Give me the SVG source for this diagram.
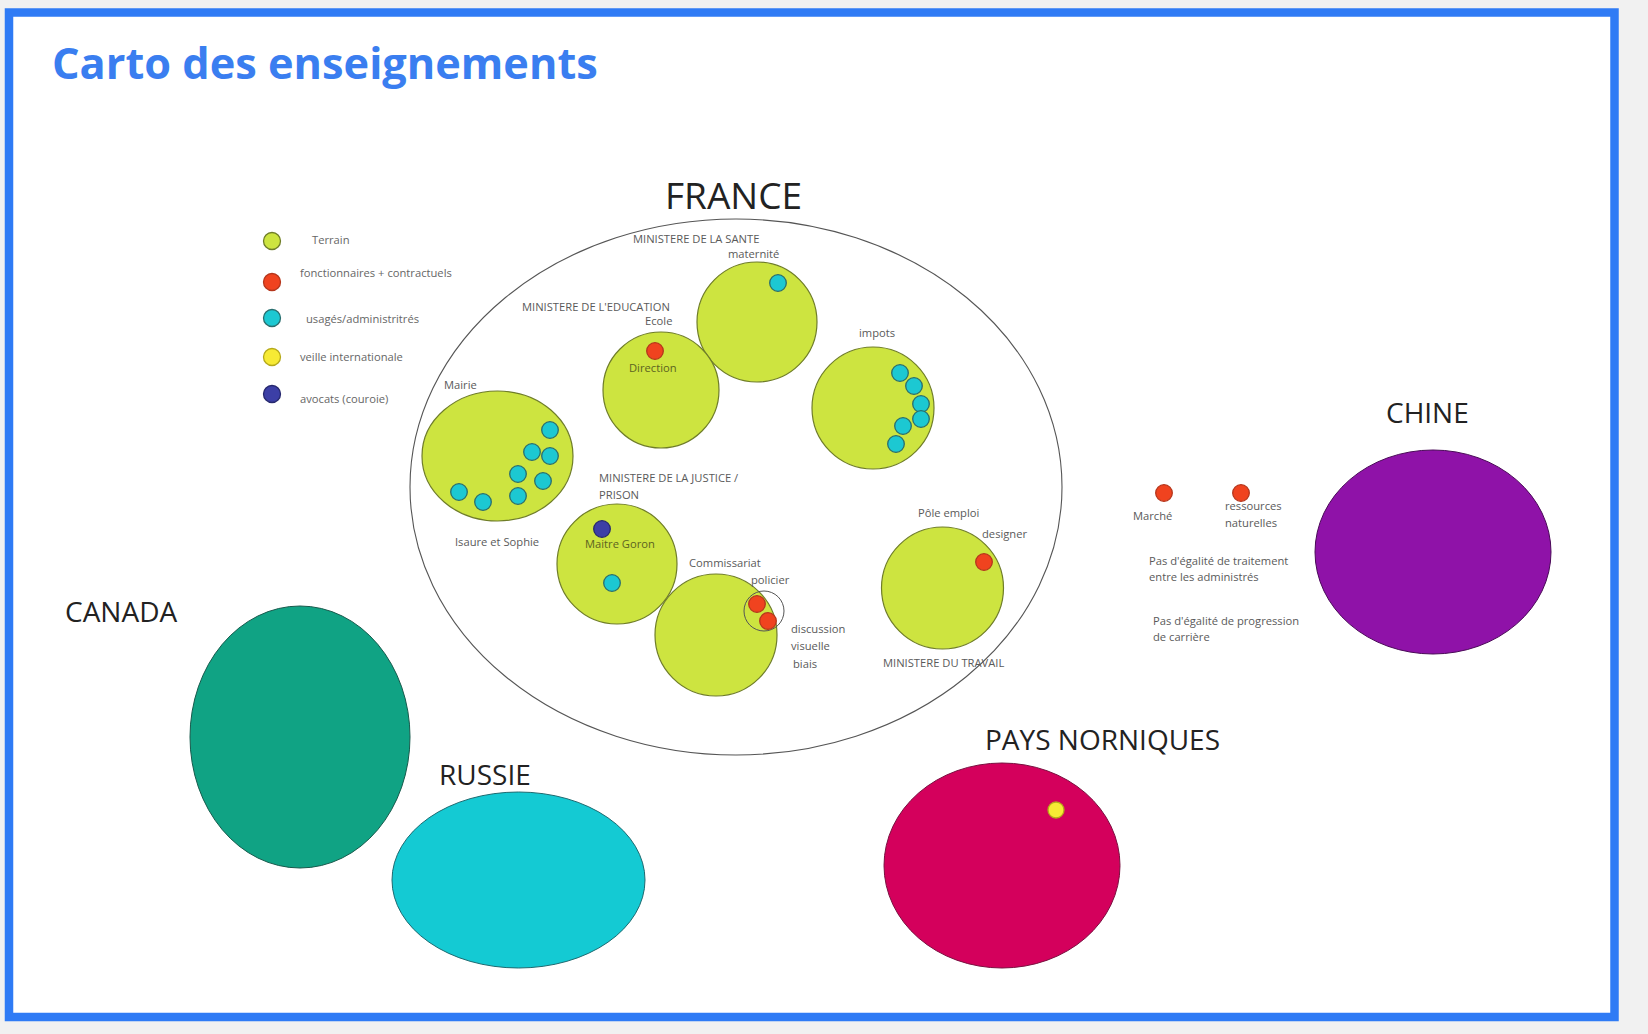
<svg xmlns="http://www.w3.org/2000/svg" width="1648" height="1034" viewBox="0 0 1648 1034">
<style>
text{font-family:"Open Sans","Noto Sans","Liberation Sans",sans-serif}
.lbl{font-size:11.2px;fill:#5a5a5a}
.leg{font-size:11.2px;fill:#666}
.in{font-size:11.2px;fill:#5c6320}
.country{font-size:28px;fill:#222}
.terrain{fill:#cde440;stroke:#6f7d28;stroke-width:1.2}
.dot{stroke-width:1.3}
.cy{fill:#1cc8d2;stroke:#2a6e6e}
.rd{fill:#f0431f;stroke:#b5361c}
.bl{fill:#3c3fa6;stroke:#26286e}
.ye{fill:#f7ea34;stroke:#b5a91a}
.gr{fill:#cde440;stroke:#6f7d28}
</style>
<rect x="0" y="0" width="1648" height="1034" fill="#f1f1f1"/>
<rect x="9" y="12.5" width="1605.5" height="1004.5" fill="#ffffff" stroke="#2f7bf5" stroke-width="8.5"/>
<text x="52" y="79" font-size="43.3" font-weight="700" fill="#3a7ef0">Carto des enseignements</text>

<g id="legend">
<circle class="dot gr" cx="272" cy="241" r="8.5"/>
<text class="leg" x="312" y="244">Terrain</text>
<circle class="dot rd" cx="272" cy="282" r="8.5"/>
<text class="leg" x="300" y="277">fonctionnaires + contractuels</text>
<circle class="dot cy" cx="272" cy="318" r="8.5"/>
<text class="leg" x="306" y="323">usagés/administritrés</text>
<circle class="dot ye" cx="272" cy="357" r="8.5"/>
<text class="leg" x="300" y="361">veille internationale</text>
<circle class="dot bl" cx="272" cy="394" r="8.5"/>
<text class="leg" x="300" y="403">avocats (couroie)</text>
</g>

<g id="france">
<ellipse cx="736" cy="487" rx="326" ry="268" fill="none" stroke="#555" stroke-width="1.1"/>
<text x="665" y="209" font-size="37" fill="#222">FRANCE</text>
</g>

<g id="sante">
<text class="lbl" x="633" y="243">MINISTERE DE LA SANTE</text>
<text class="lbl" x="728" y="258">maternité</text>
<circle class="terrain" cx="757" cy="322" r="60"/>
<circle class="dot cy" cx="778" cy="283" r="8.3"/>
</g>

<g id="education">
<text class="lbl" x="522" y="311">MINISTERE DE L'EDUCATION</text>
<text class="lbl" x="645" y="325">Ecole</text>
<circle class="terrain" cx="661" cy="390" r="58"/>
<circle class="dot rd" cx="655" cy="351" r="8.3"/>
<text class="in" x="629" y="372">Direction</text>
</g>

<g id="impots">
<text class="lbl" x="859" y="337">impots</text>
<circle class="terrain" cx="873" cy="408" r="61"/>
<circle class="dot cy" cx="900" cy="373" r="8.3"/>
<circle class="dot cy" cx="914" cy="386" r="8.3"/>
<circle class="dot cy" cx="921" cy="404" r="8.3"/>
<circle class="dot cy" cx="921" cy="419" r="8.3"/>
<circle class="dot cy" cx="903" cy="426" r="8.3"/>
<circle class="dot cy" cx="896" cy="444" r="8.3"/>
</g>

<g id="mairie">
<text class="lbl" x="444" y="389">Mairie</text>
<ellipse class="terrain" cx="497.5" cy="456" rx="75.5" ry="65"/>
<circle class="dot cy" cx="550" cy="430" r="8.3"/>
<circle class="dot cy" cx="532" cy="452" r="8.3"/>
<circle class="dot cy" cx="550" cy="456" r="8.3"/>
<circle class="dot cy" cx="518" cy="474" r="8.3"/>
<circle class="dot cy" cx="543" cy="481" r="8.3"/>
<circle class="dot cy" cx="459" cy="492" r="8.3"/>
<circle class="dot cy" cx="483" cy="502" r="8.3"/>
<circle class="dot cy" cx="518" cy="496" r="8.3"/>
<text class="lbl" x="455" y="546">Isaure et Sophie</text>
</g>

<g id="justice">
<text class="lbl" x="599" y="482">MINISTERE DE LA JUSTICE /</text>
<text class="lbl" x="599" y="499">PRISON</text>
<circle class="terrain" cx="617" cy="564" r="60"/>
<circle class="dot bl" cx="602" cy="529" r="8.3"/>
<text class="in" x="585" y="548">Maitre Goron</text>
<circle class="dot cy" cx="612" cy="583" r="8.3"/>
</g>

<g id="commissariat">
<text class="lbl" x="689" y="567">Commissariat</text>
<circle class="terrain" cx="716" cy="635" r="61"/>
<text class="lbl" x="751" y="584">policier</text>
<circle cx="764" cy="611" r="20" fill="none" stroke="#555" stroke-width="1"/>
<circle class="dot rd" cx="757" cy="604" r="8.3"/>
<circle class="dot rd" cx="768" cy="621" r="8.3"/>
<text class="lbl" x="791" y="633">discussion</text>
<text class="lbl" x="791" y="650">visuelle</text>
<text class="lbl" x="793" y="668">biais</text>
</g>

<g id="travail">
<text class="lbl" x="918" y="517">Pôle emploi</text>
<text class="lbl" x="982" y="538">designer</text>
<circle class="terrain" cx="942.5" cy="588" r="61"/>
<circle class="dot rd" cx="984" cy="562" r="8.3"/>
<text class="lbl" x="883" y="667">MINISTERE DU TRAVAIL</text>
</g>

<g id="chine">
<text class="country" x="1386" y="423">CHINE</text>
<ellipse cx="1433" cy="552" rx="118" ry="102" fill="#8f12a8" stroke="#4a0a58" stroke-width="1"/>
</g>

<g id="chine-notes">
<circle class="dot rd" cx="1164" cy="493" r="8.3"/>
<text class="lbl" x="1133" y="520">Marché</text>
<circle class="dot rd" cx="1241" cy="493" r="8.3"/>
<text class="lbl" x="1225" y="510">ressources</text>
<text class="lbl" x="1225" y="527">naturelles</text>
<text class="lbl" x="1149" y="565">Pas d'égalité de traitement</text>
<text class="lbl" x="1149" y="581">entre les administrés</text>
<text class="lbl" x="1153" y="625">Pas d'égalité de progression</text>
<text class="lbl" x="1153" y="641">de carrière</text>
</g>

<g id="canada">
<text class="country" x="65" y="622" font-size="28.5">CANADA</text>
<ellipse cx="300" cy="737" rx="110" ry="131" fill="#10a384" stroke="#175a4c" stroke-width="1"/>
</g>

<g id="russie">
<text class="country" x="439" y="785">RUSSIE</text>
<ellipse cx="518.5" cy="880" rx="126.5" ry="88" fill="#14cad3" stroke="#1d6a70" stroke-width="1"/>
</g>

<g id="pays-norniques">
<text class="country" x="985" y="750" font-size="28.5">PAYS NORNIQUES</text>
<ellipse cx="1002" cy="865.5" rx="118" ry="102.5" fill="#d4005c" stroke="#7a1040" stroke-width="1"/>
<circle class="dot ye" cx="1056" cy="810" r="8"/>
</g>

<g id="connectors"/>
</svg>
